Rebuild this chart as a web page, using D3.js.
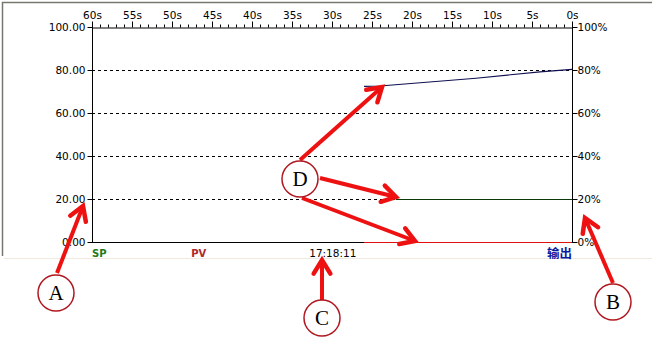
<!DOCTYPE html>
<html>
<head>
<meta charset="utf-8">
<script src="https://cdn.jsdelivr.net/npm/d3@7"></script>
<style>
  body { margin: 0; background: #fff; }
  svg text { font-family: "DejaVu Sans", sans-serif; }
</style>
</head>
<body>
<div id="chart"></div>
<script>
// trend data, seconds ago -> value
var secondsAgo = [26, 24, 12, 4, 0];
var outputValues = [72.6, 72.8, 76.4, 79.4, 80.5];
var spSeconds = [22, 0];
var spValues = [20, 20];
var pvSeconds = [26, 0];
var pvValues = [0, 0];

var timeTicks = [60, 55, 50, 45, 40, 35, 30, 25, 20, 15, 10, 5, 0];
var valueTicks = [0, 20, 40, 60, 80, 100];
var legendLabels = ["SP", "PV", "17:18:11", "输出"];

var width = 652, height = 345;
var margin = {top: 27, right: 80, bottom: 103, left: 92};

var svg = d3.select("#chart")
    .append("svg")
    .attr("width", width)
    .attr("height", height);

// panel frame (left + top dark, bottom faint)
svg.append("path")
    .attr("d", "M2.5,256V2.5H652")
    .attr("fill", "none")
    .attr("stroke", "#777770")
    .attr("stroke-width", 1.5);
svg.append("line")
    .attr("x1", 4).attr("x2", 652).attr("y1", 258.5).attr("y2", 258.5)
    .attr("stroke", "#efe9e0");

var x = d3.scaleLinear().domain([60, 0]).range([margin.left, width - margin.right]);
var y = d3.scaleLinear().domain([0, 100]).range([height - margin.bottom, margin.top]);

// dashed grid
svg.append("g")
    .selectAll("line")
    .data(valueTicks.filter(function(d) { return d > 0 && d < 100; }))
    .enter().append("line")
    .attr("x1", x(60)).attr("x2", x(0))
    .attr("y1", function(d) { return y(d) + 0.5; })
    .attr("y2", function(d) { return y(d) + 0.5; })
    .attr("stroke", "#000")
    .attr("stroke-dasharray", "3,3");

// left axis
var leftAxis = svg.append("g")
    .attr("transform", "translate(" + (x(60) + 0.5) + ",0)")
    .call(d3.axisLeft(y).tickValues(valueTicks).tickSize(5).tickFormat(d3.format(".2f")));

// right axis
var rightAxis = svg.append("g")
    .attr("transform", "translate(" + (x(0) + 0.5) + ",0)")
    .call(d3.axisRight(y).tickValues(valueTicks).tickSize(5).tickFormat(function(d) { return d + "%"; }));

// bottom line
svg.append("line")
    .attr("x1", x(60)).attr("x2", x(0) + 1)
    .attr("y1", y(0) + 0.5).attr("y2", y(0) + 0.5)
    .attr("stroke", "#000");

// top time axis, minor tick each second
var topAxis = svg.append("g")
    .attr("transform", "translate(0," + (y(100) + 0.5) + ")")
    .call(d3.axisTop(x).tickValues(d3.range(0, 61)).tickSizeOuter(0)
        .tickFormat(function(d) { return timeTicks.indexOf(d) >= 0 ? d + "s" : ""; }));
topAxis.selectAll(".tick line")
    .attr("y2", function(d) { return timeTicks.indexOf(d) >= 0 ? -6 : -3; });
topAxis.selectAll(".tick text").attr("y", -9);

[leftAxis, rightAxis, topAxis].forEach(function(g) {
  g.select(".domain").attr("stroke", "#000");
  g.selectAll(".tick line").attr("stroke", "#000");
  g.selectAll("text")
      .attr("fill", "#000")
      .style("font-size", "10.5px")
      .style("font-family", "DejaVu Sans, sans-serif");
});
leftAxis.select(".domain").attr("d", "M0," + y(100) + "V" + (y(0) + 0.5));
rightAxis.select(".domain").attr("d", "M0," + y(100) + "V" + (y(0) + 0.5));
leftAxis.selectAll(".tick text").attr("x", -7);
rightAxis.selectAll(".tick text").attr("x", 5);

// series
var line = d3.line()
    .x(function(d) { return x(d[0]); })
    .y(function(d) { return y(d[1]) + 0.5; });

svg.append("path")
    .datum(d3.zip(spSeconds, spValues))
    .attr("fill", "none").attr("stroke", "#0a3a0a").attr("stroke-width", 1)
    .attr("d", line);
svg.append("path")
    .datum(d3.zip(pvSeconds, pvValues))
    .attr("fill", "none").attr("stroke", "#e01010").attr("stroke-width", 1.2)
    .attr("d", line);
svg.append("path")
    .datum(d3.zip(secondsAgo, outputValues))
    .attr("fill", "none").attr("stroke", "#101050").attr("stroke-width", 1.2)
    .attr("d", line);

// legend row under the plot
var legendY = y(0) + 15;
svg.append("text").text(legendLabels[0])
    .attr("x", x(60)).attr("y", legendY)
    .attr("fill", "#1e7a1e").attr("font-weight", "bold").style("font-size", "10px");
svg.append("text").text(legendLabels[1])
    .attr("x", x(47.6)).attr("y", legendY)
    .attr("fill", "#b02828").attr("font-weight", "bold").style("font-size", "10px");
svg.append("text").text(legendLabels[2])
    .attr("x", x(29.9)).attr("y", legendY)
    .attr("text-anchor", "middle")
    .attr("fill", "#000").style("font-size", "10.5px");
svg.append("text").text(legendLabels[3])
    .attr("x", x(0)).attr("y", legendY + 1)
    .attr("text-anchor", "end")
    .attr("fill", "#0a1aa0").attr("font-weight", "bold")
    .style("font-family", "Noto Sans CJK SC, sans-serif").style("font-size", "12.5px");

// callouts: red arrows and circled letters
var arrows = [
  [57, 273, 83, 206],
  [613, 283, 585, 218],
  [322, 300, 322, 260],
  [300, 160, 382, 87],
  [320, 178, 396, 197],
  [302, 198, 415, 241]
];
var circles = [
  [56, 293, "A"],
  [613, 302, "B"],
  [322, 318, "C"],
  [300, 179, "D"]
];

var ann = svg.append("g");
arrows.forEach(function(a) {
  var ang = Math.atan2(a[3] - a[1], a[2] - a[0]);
  var len = 16, spread = 0.55;
  var p1 = [a[2] - len * Math.cos(ang - spread), a[3] - len * Math.sin(ang - spread)];
  var p2 = [a[2] - len * Math.cos(ang + spread), a[3] - len * Math.sin(ang + spread)];
  ann.append("line")
      .attr("x1", a[0]).attr("y1", a[1]).attr("x2", a[2]).attr("y2", a[3])
      .attr("stroke", "#ee1111").attr("stroke-width", 4);
  ann.append("path")
      .attr("d", "M" + p1 + "L" + a[2] + "," + a[3] + "L" + p2)
      .attr("fill", "none").attr("stroke", "#ee1111").attr("stroke-width", 4.5)
      .attr("stroke-linecap", "round").attr("stroke-linejoin", "miter");
});
circles.forEach(function(c) {
  ann.append("circle")
      .attr("cx", c[0]).attr("cy", c[1]).attr("r", 18)
      .attr("fill", "#fff").attr("stroke", "#b01820").attr("stroke-width", 1.5);
  ann.append("text")
      .attr("x", c[0]).attr("y", c[1] + 7)
      .attr("text-anchor", "middle")
      .style("font-family", "Liberation Serif, serif").style("font-size", "21px")
      .attr("fill", "#000")
      .text(c[2]);
});
</script>
</body>
</html>
